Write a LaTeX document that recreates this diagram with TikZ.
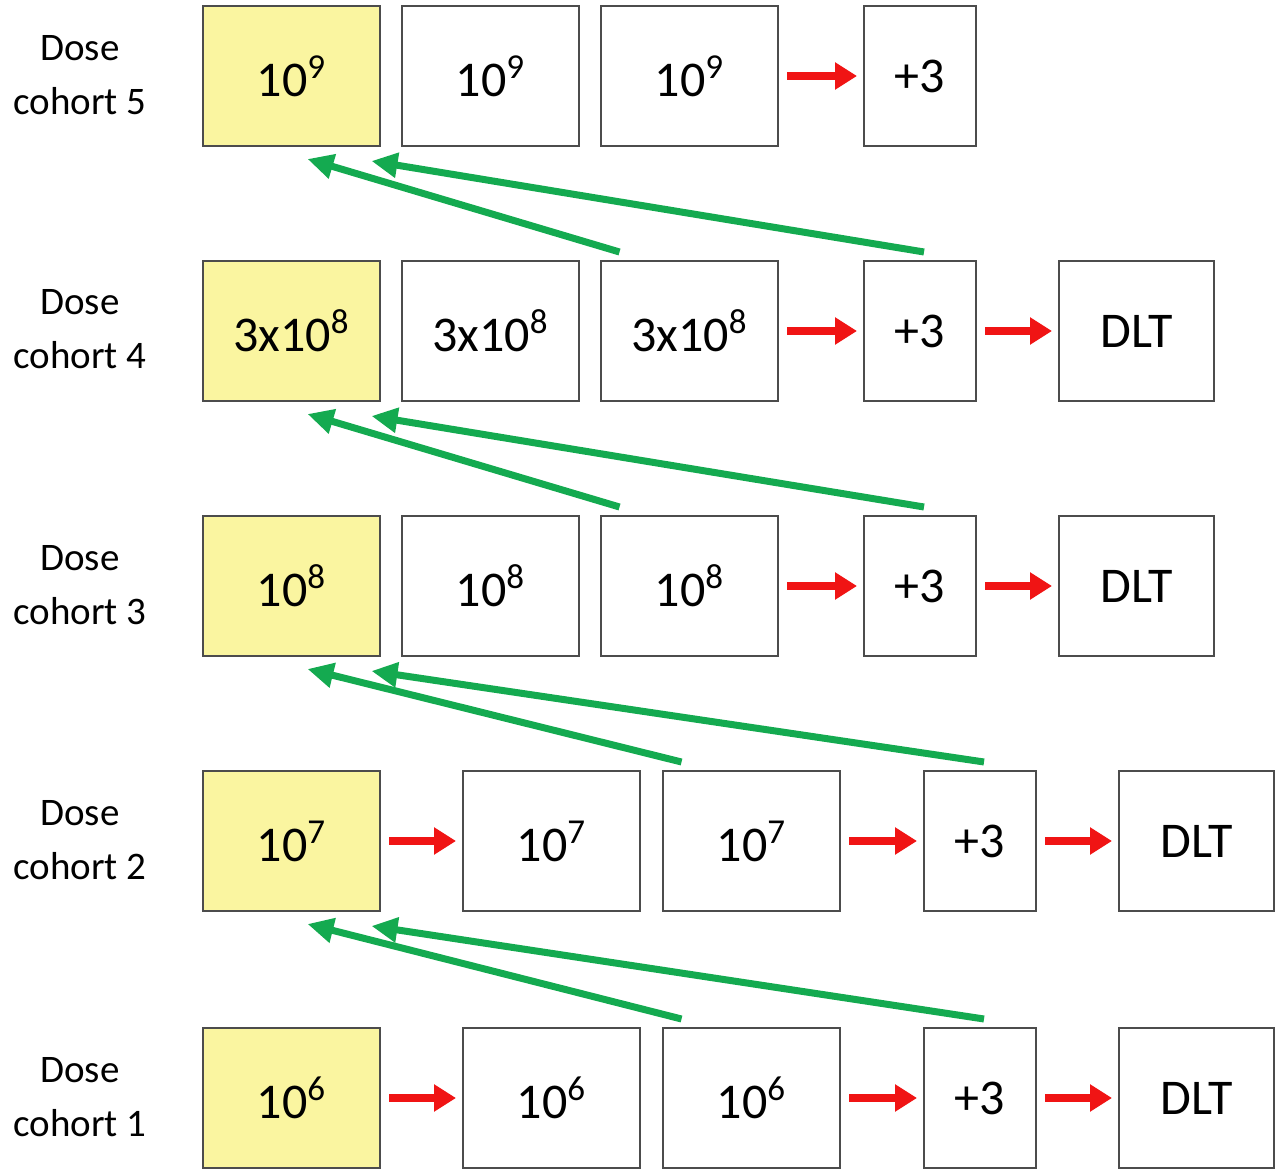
\documentclass[tikz,border=0pt]{standalone}
\usepackage{fontspec}
\setmainfont{Carlito}
\usetikzlibrary{arrows.meta,positioning}
\definecolor{boxyellow}{RGB}{250,245,160}
\definecolor{stepred}{RGB}{240,20,20}
\definecolor{escgreen}{RGB}{20,170,80}
\newcommand{\pw}[1]{\textsuperscript{#1}}
\tikzset{%
	dose/.style   = {draw=black!70, line width=1pt, anchor=north west, minimum width=88.5pt, minimum height=70pt, font=\fontsize{25}{28}\selectfont},
	start/.style  = {dose, fill=boxyellow},
	plus/.style   = {dose, minimum width=56pt},
	dlt/.style    = {dose, minimum width=77.5pt},
	cohort/.style = {align=center, font=\fontsize{19.5}{27}\selectfont},
	nextpt/.style = {stepred, line width=4pt, -{Triangle[length=11pt,width=13pt]}, shorten <=4pt, shorten >=3pt},
	escal/.style  = {escgreen, line width=3.5pt, -{Triangle[length=13pt,width=12pt]}},
}
\begin{document}
\begin{tikzpicture}[x=0.5pt, y=-0.5pt]
	\useasboundingbox (0,0) rectangle (1280,1176);
	% cohort 5
	\node[cohort] (l5) at (80,75) {Dose\\cohort 5};
	\node[start] (y5) at (202,5) {10\pw{9}};
	\node[dose] (a5) at (401,5) {10\pw{9}};
	\node[dose] (b5) at (600,5) {10\pw{9}};
	\node[plus] (p5) at (863,5) {+3};
	% cohort 4
	\node[cohort] (l4) at (80,329) {Dose\\cohort 4};
	\node[start] (y4) at (202,260) {3x10\pw{8}};
	\node[dose] (a4) at (401,260) {3x10\pw{8}};
	\node[dose] (b4) at (600,260) {3x10\pw{8}};
	\node[plus] (p4) at (863,260) {+3};
	\node[dlt] (d4) at (1058,260) {DLT};
	% cohort 3
	\node[cohort] (l3) at (80,585) {Dose\\cohort 3};
	\node[start] (y3) at (202,515) {10\pw{8}};
	\node[dose] (a3) at (401,515) {10\pw{8}};
	\node[dose] (b3) at (600,515) {10\pw{8}};
	\node[plus] (p3) at (863,515) {+3};
	\node[dlt] (d3) at (1058,515) {DLT};
	% cohort 2
	\node[cohort] (l2) at (80,840) {Dose\\cohort 2};
	\node[start] (y2) at (202,770) {10\pw{7}};
	\node[dose] (a2) at (462,770) {10\pw{7}};
	\node[dose] (b2) at (662,770) {10\pw{7}};
	\node[plus] (p2) at (923,770) {+3};
	\node[dlt] (d2) at (1118,770) {DLT};
	% cohort 1
	\node[cohort] (l1) at (80,1097) {Dose\\cohort 1};
	\node[start] (y1) at (202,1027) {10\pw{6}};
	\node[dose] (a1) at (462,1027) {10\pw{6}};
	\node[dose] (b1) at (662,1027) {10\pw{6}};
	\node[plus] (p1) at (923,1027) {+3};
	\node[dlt] (d1) at (1118,1027) {DLT};

	\draw[nextpt] (b5) -- (p5);
	\draw[nextpt] (b4) -- (p4);
	\draw[nextpt] (p4) -- (d4);
	\draw[nextpt] (b3) -- (p3);
	\draw[nextpt] (p3) -- (d3);
	\draw[nextpt] (y2) -- (a2);
	\draw[nextpt] (b2) -- (p2);
	\draw[nextpt] (p2) -- (d2);
	\draw[nextpt] (y1) -- (a1);
	\draw[nextpt] (b1) -- (p1);
	\draw[nextpt] (p1) -- (d1);

	\foreach \lo/\hi in {4/5,3/4,2/3,1/2} {
		\draw[escal] ([xshift=-35pt,yshift=4pt]b\lo.north) -- ([xshift=8pt,yshift=-6pt]y\hi.south);
		\draw[escal] ([xshift=2pt,yshift=4pt]p\lo.north) -- ([xshift=40pt,yshift=-7pt]y\hi.south);
	}
\end{tikzpicture}
\end{document}
